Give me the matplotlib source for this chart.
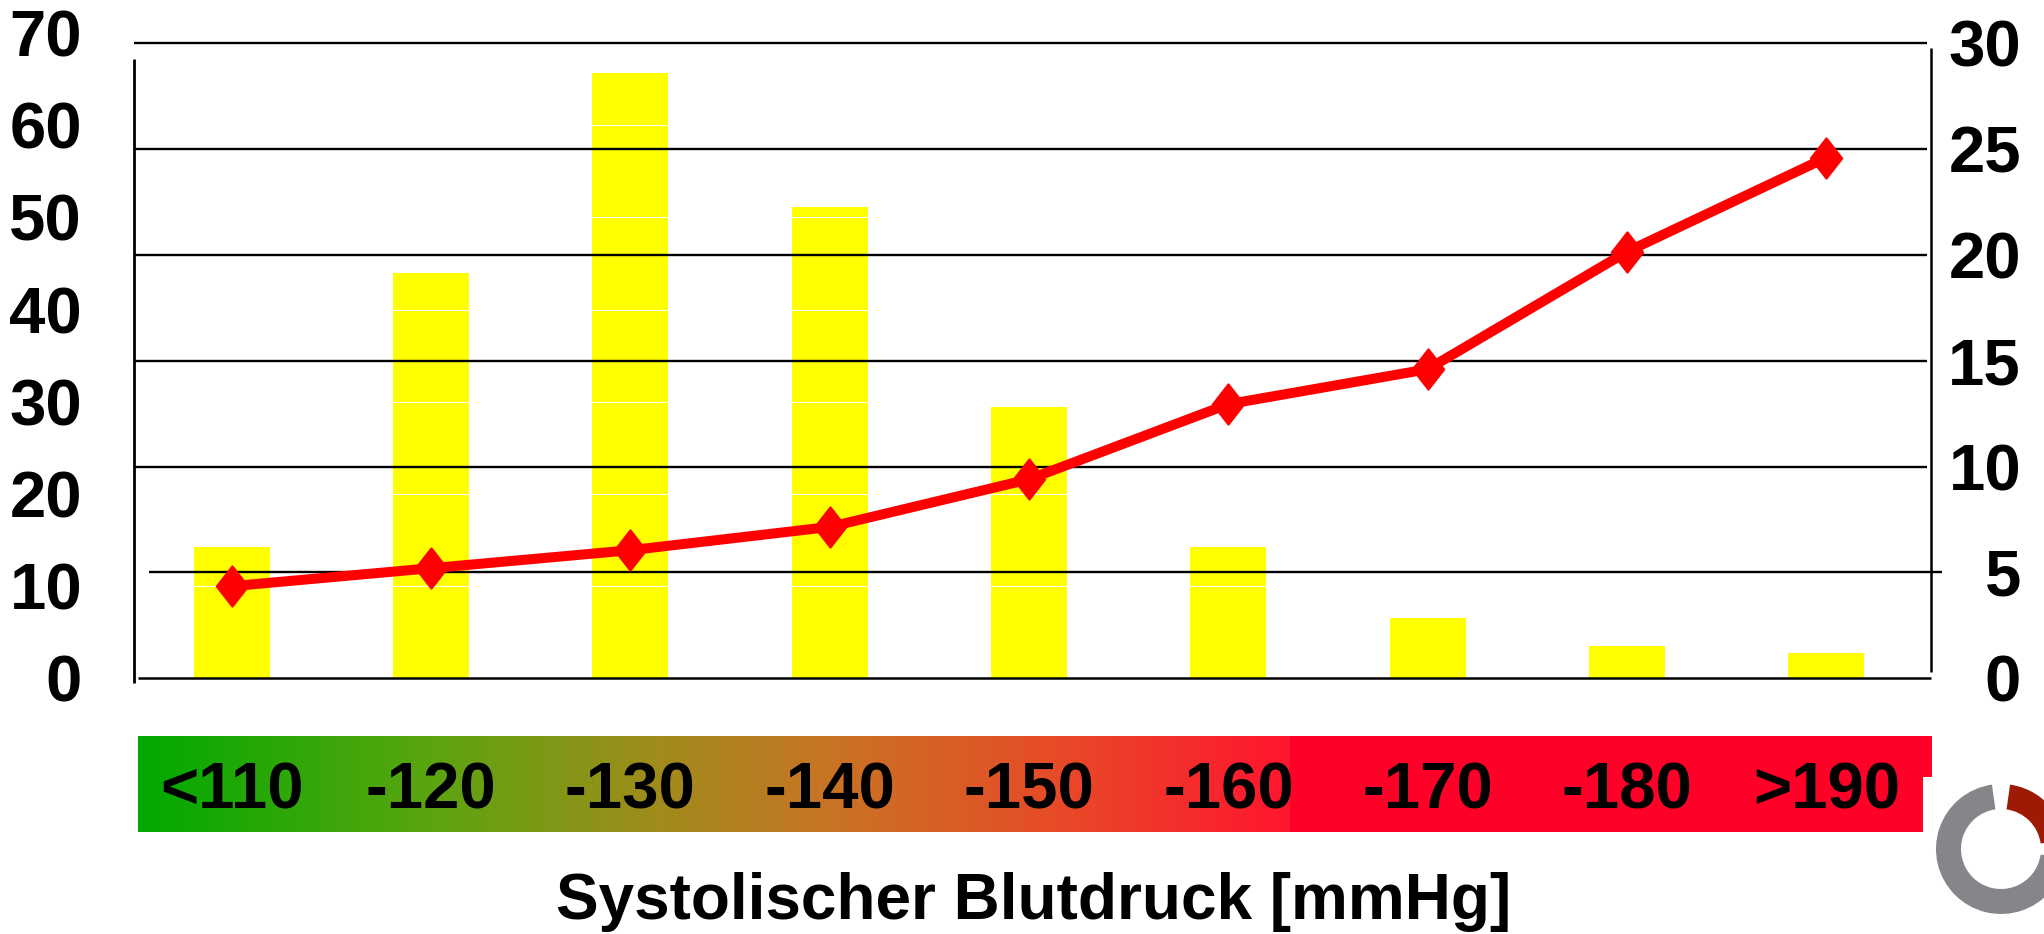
import numpy as np
import matplotlib
matplotlib.use("Agg")
import matplotlib.pyplot as plt
from matplotlib.path import Path
from matplotlib.patches import Polygon, Wedge

# ---------------- data ----------------
categories = ['<110', '-120', '-130', '-140', '-150', '-160', '-170', '-180', '>190']
bar_values = [14.25, 44.0, 65.65, 51.1, 29.45, 14.2, 6.55, 3.45, 2.75]      # left axis
line_values = [4.35, 5.2, 6.05, 7.15, 9.4, 12.95, 14.6, 20.15, 24.6]      # right axis
left_ticks = [0, 10, 20, 30, 40, 50, 60, 70]
right_ticks = [0, 5, 10, 15, 20, 25, 30]
x_label = 'Systolischer Blutdruck [mmHg]'

plt.rcParams['font.family'] = ['Liberation Sans', 'DejaVu Sans']
plt.rcParams['font.weight'] = 'bold'

W, H = 2044, 934
fig = plt.figure(figsize=(W / 100, H / 100), dpi=100)
fig.patch.set_facecolor('white')

# ---------------- decoration layer (pixel coords, y down) ----------------
deco = fig.add_axes([0, 0, 1, 1], zorder=-1)
deco.set_xlim(0, W)
deco.set_ylim(H, 0)
deco.axis('off')

# gradient band
stops = [0.0, 0.25, 0.45, 0.6, 0.8, 1.0]
cols = np.array([[0, 170, 0], [90, 165, 16], [160, 140, 28], [200, 116, 36],
                 [232, 74, 40], [255, 21, 48]]) / 255.0
t = np.linspace(0, 1, 600)
grad = np.stack([np.interp(t, stops, cols[:, k]) for k in range(3)], axis=-1)[None, :, :]
deco.imshow(grad, extent=(138, 1291, 831.7, 736), aspect='auto', interpolation='bilinear', zorder=1)
deco.add_patch(Polygon([(1290, 736), (1931.7, 736), (1931.7, 776.7), (1923.3, 776.7),
                        (1923.3, 831.7), (1290, 831.7)], closed=True,
                       facecolor='#FF0028', edgecolor='none', zorder=2))

# logo ring (partially outside the figure)
cx, cy, r_out, ring_w = 2001, 849, 65, 25
deco.add_patch(Wedge((cx, cy), r_out, 8, 262, width=ring_w, facecolor='#85858A', edgecolor='none'))
deco.add_patch(Wedge((cx, cy), r_out, 278, 352, width=ring_w, facecolor='#9E1A05', edgecolor='none'))

# ---------------- main axes ----------------
ax_left, ax_right, ax_bottom, ax_top = 134, 1931, 678.3, 32.9
ax1 = fig.add_axes([ax_left / W, 1 - ax_bottom / H, (ax_right - ax_left) / W, (ax_bottom - ax_top) / H])
ax2 = ax1.twinx()
for a in (ax1, ax2):
    for s in a.spines.values():
        s.set_visible(False)
ax1.patch.set_visible(False)

x = np.arange(len(categories))
ax1.set_xlim(-0.49, 8.525)
ax1.set_ylim(0, 70)
ax2.set_ylim(0, (ax_bottom - ax_top) / 21.17)

ax1.bar(x, bar_values, width=0.38, color='#FFFF00', zorder=1)
ax1.hlines(left_ticks[1:-1], -0.49, 8.525, color='white', lw=0.8, zorder=1.5)

# custom spines
ax1.plot([0, 0], [-0.0068, 0.9596], transform=ax1.transAxes, color='black', lw=2.0,
         clip_on=False, solid_capstyle='butt', zorder=3)
ax1.plot([0.0022, 1.0], [0, 0], transform=ax1.transAxes, color='black', lw=1.8,
         clip_on=False, solid_capstyle='butt', zorder=3)
ax2.plot([1, 1], [0.0102, 0.9761], transform=ax2.transAxes, color='black', lw=1.8,
         clip_on=False, solid_capstyle='butt', zorder=1)

# gridlines at right-axis ticks
g_ticks = right_ticks[1:]
xmins = [0.00835 if v == 5 else 0.0 for v in g_ticks]
xmaxs = [1.0059 if v == 5 else 0.9976 for v in g_ticks]
ax2.hlines(g_ticks, xmins, xmaxs, transform=ax2.get_yaxis_transform(), color='black',
           lw=1.7, clip_on=False, zorder=1)

# red line with diamond markers
diamond = Path([(0, 1), (0.78, 0), (0, -1), (-0.78, 0), (0, 1)],
               [Path.MOVETO, Path.LINETO, Path.LINETO, Path.LINETO, Path.CLOSEPOLY])
ax2.plot(x, line_values, color='#FF0000', lw=7.2, marker=diamond, markersize=29,
         markerfacecolor='#FF0000', markeredgecolor='#FF0000', markeredgewidth=1.5,
         solid_joinstyle='round', zorder=4)

# ticks
ax1.set_xticks([])
ax2.set_xticks([])
ax1.set_yticks(left_ticks)
ax1.set_yticklabels([str(v) for v in left_ticks])
ax2.set_yticks(right_ticks)
ax2.set_yticklabels([str(v) for v in right_ticks])
ax1.tick_params(axis='y', length=0, pad=37.4, labelsize=47)
ax2.tick_params(axis='y', length=0, pad=64.8, labelsize=47)
for lbl in ax2.get_yticklabels():
    lbl.set_horizontalalignment('right')

# category labels in colour band
for i, c in enumerate(categories):
    ax1.text(i, -0.2017, c, transform=ax1.get_xaxis_transform(), ha='center', va='baseline',
             fontsize=47, fontweight='bold', color='black', clip_on=False)

fig.text(1034 / W, 1 - 919 / H, x_label, ha='center', va='baseline', fontsize=46,
         fontweight='bold', color='black')

fig.savefig('out.png', dpi=100)
